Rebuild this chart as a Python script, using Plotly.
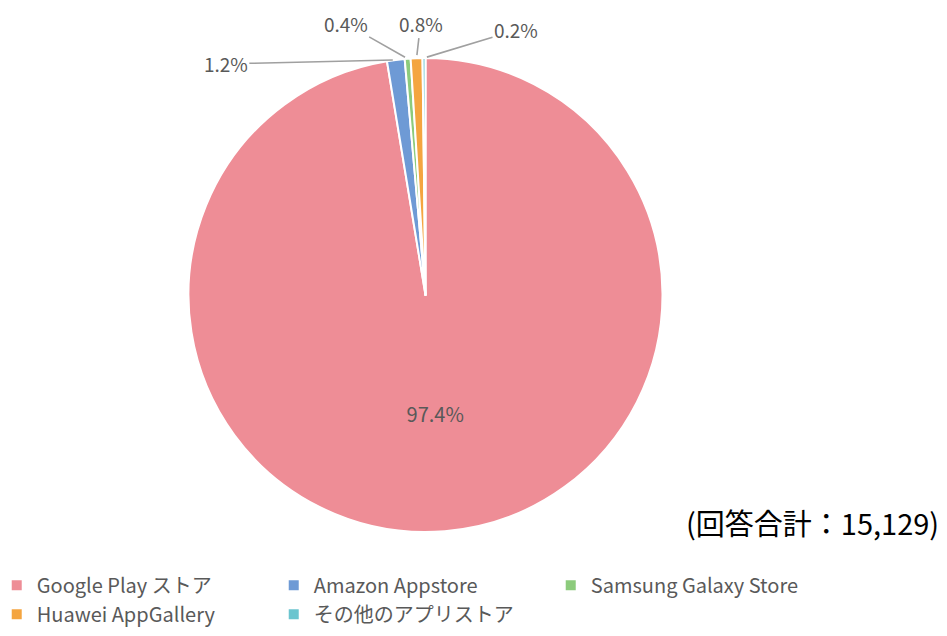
import math
import plotly.graph_objects as go

labels = ["Google Play ストア", "Amazon Appstore", "Samsung Galaxy Store",
          "Huawei AppGallery", "その他のアプリストア"]
values = [97.4, 1.2, 0.4, 0.8, 0.2]
colors = ["#EE8D96", "#6E9AD5", "#8CCB7C", "#F4A540", "#6BC5CF"]
text_positions = ["inside", "none", "none", "none", "none"]
# pixel offsets of the callout labels for small slices (styling only)
label_offsets = [None, (-170, 4), (-62, -35), (4, -35), (92, -28)]
total_note = "(回答合計：15,129)"

font_family = "Noto Sans CJK JP, Noto Sans, sans-serif"
W, H = 939, 628          # page has an 8px body margin
MB = 80                  # bottom margin reserved for the legend
PH = H - MB              # plot-area height
dom_x = [0.19223, 0.69702]
dom_y = [0.0438, 0.9088]

fig = go.Figure(go.Pie(
    labels=labels,
    values=values,
    sort=False,
    direction="clockwise",
    rotation=0,
    marker=dict(colors=colors, line=dict(color="white", width=2)),
    texttemplate="%{value:.1f}%",
    textposition=text_positions,
    insidetextorientation="horizontal",
    textfont=dict(color="#595959", size=20, family=font_family),
    insidetextfont=dict(color="#595959", size=20, family=font_family),
    domain=dict(x=dom_x, y=dom_y),
    hoverinfo="label+percent",
))

# callout labels with leader lines for the small slices,
# anchored at the slice's outer edge computed from the data
cx = (dom_x[0] + dom_x[1]) / 2
cy = (dom_y[0] + dom_y[1]) / 2
r_px = min((dom_x[1] - dom_x[0]) * W, (dom_y[1] - dom_y[0]) * PH) / 2
total = sum(values)
cum = 0.0
for v, off in zip(values, label_offsets):
    mid = (cum + v / 2) / total * 2 * math.pi
    cum += v
    if off is None:
        continue
    px = cx + r_px * math.sin(mid) / W
    py = cy + r_px * math.cos(mid) / PH
    fig.add_annotation(
        x=px, y=py, xref="paper", yref="paper",
        text=f"{v:.1f}%", showarrow=True, arrowhead=0, arrowwidth=1.6,
        arrowcolor="#A0A0A0", ax=off[0], ay=off[1], standoff=3,
        font=dict(size=19, color="#595959", family=font_family),
    )

fig.add_annotation(
    text=total_note, xref="paper", yref="paper", x=0.9935, y=0.062,
    xanchor="right", yanchor="middle", showarrow=False,
    font=dict(size=29, color="black", family=font_family),
)

fig.update_layout(
    width=W, height=H,
    margin=dict(l=0, r=0, t=0, b=MB, autoexpand=False),
    paper_bgcolor="white",
    plot_bgcolor="white",
    showlegend=True,
    legend=dict(
        orientation="h", x=-0.012, y=-0.018, xanchor="left", yanchor="top",
        entrywidth=232, entrywidthmode="pixels",
        font=dict(size=20, color="#595959", family=font_family),
        traceorder="normal",
    ),
)

fig.write_html("out.html")
